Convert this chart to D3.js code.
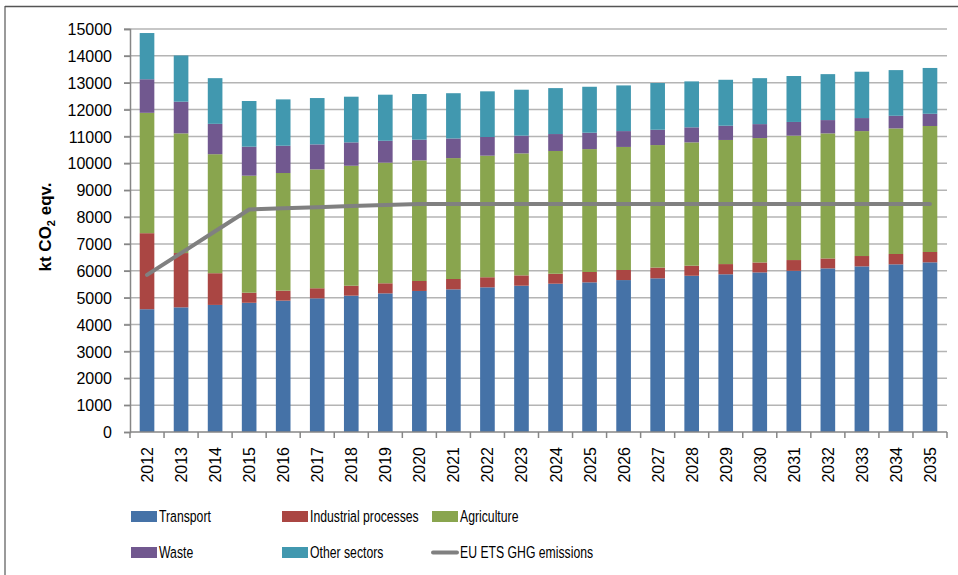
<!DOCTYPE html>
<html>
<head>
<meta charset="utf-8">
<script src="https://cdn.jsdelivr.net/npm/d3@7"></script>
<style>
    body { margin: 0; background: #fff; }
    svg { display: block; }
    .tick-label { font-family: "Liberation Sans", Arial, sans-serif; font-size: 16px; fill: #000; }
    .legend-text { font-family: "Liberation Sans", Arial, sans-serif; font-size: 17px; fill: #000; }
</style>
</head>
<body>
<svg id="chart"></svg>
<script>
const YEARS = ["2012","2013","2014","2015","2016","2017","2018","2019","2020","2021","2022","2023",
    "2024","2025","2026","2027","2028","2029","2030","2031","2032","2033","2034","2035"];

const TRANSPORT = [4570,4640,4730,4810,4890,4975,5075,5160,5250,5310,5385,5445,
    5520,5570,5655,5720,5815,5870,5940,6000,6090,6165,6240,6315];
const INDUSTRIAL = [2830,2020,1180,375,370,375,370,375,370,385,375,385,
    370,385,375,400,375,380,370,400,370,385,385,385];
const AGRICULTURE = [4480,4455,4430,4355,4380,4425,4465,4490,4490,4500,4525,4540,
    4570,4575,4580,4560,4590,4620,4630,4630,4655,4650,4675,4690];
const WASTE = [1250,1180,1130,1080,1015,930,870,815,770,730,695,660,
    630,610,590,570,560,530,520,510,495,485,470,455];
const OTHER = [1720,1720,1700,1700,1725,1725,1700,1715,1700,1685,1700,1710,
    1710,1710,1700,1740,1710,1710,1710,1710,1710,1725,1700,1705];
const ETS = [5850,6660,7470,8280,8330,8370,8410,8450,8485,8485,8485,8485,
    8485,8485,8485,8485,8485,8485,8485,8485,8485,8485,8485,8485];

const Y_TICKS = [0,1000,2000,3000,4000,5000,6000,7000,8000,9000,10000,11000,12000,13000,14000,15000];

const SERIES = [
    { name: "Transport", values: TRANSPORT, color: "#4572a7" },
    { name: "Industrial processes", values: INDUSTRIAL, color: "#aa4643" },
    { name: "Agriculture", values: AGRICULTURE, color: "#89a54e" },
    { name: "Waste", values: WASTE, color: "#71588f" },
    { name: "Other sectors", values: OTHER, color: "#4198af" }
];

const WIDTH = 958;
const HEIGHT = 575;
const LEFT = 130, RIGHT = 947, TOP = 29, BOTTOM = 432;

window.onload = function() {
    let svg = d3.select("#chart")
        .attr("width", WIDTH)
        .attr("height", HEIGHT);

    // frame of the picture (left + top edge)
    svg.append("line")
        .attr("x1", 5).attr("x2", 5).attr("y1", 6).attr("y2", HEIGHT)
        .attr("stroke", "#9a9a9a").attr("stroke-width", 2);
    svg.append("line")
        .attr("x1", 5).attr("x2", WIDTH).attr("y1", 6.5).attr("y2", 6.5)
        .attr("stroke", "#555").attr("stroke-width", 1.5);

    var x = d3.scaleBand()
        .domain(YEARS)
        .range([LEFT, RIGHT])
        .paddingInner(0.57)
        .paddingOuter(0.285);

    var y = d3.scaleLinear()
        .domain([0, 15000])
        .range([BOTTOM, TOP]);

    // gridlines
    svg.append("g")
        .selectAll("line")
        .data(Y_TICKS.slice(1))
        .enter().append("line")
        .attr("x1", LEFT - 6)
        .attr("x2", RIGHT)
        .attr("y1", function(d) { return y(d); })
        .attr("y2", function(d) { return y(d); })
        .attr("stroke", "#b4b4b4")
        .attr("stroke-width", 1.5);

    // y axis
    var yAxis = svg.append("g")
        .attr("transform", "translate(" + LEFT + ",0)")
        .call(d3.axisLeft(y).tickValues(Y_TICKS).tickSize(6).tickPadding(12).tickFormat(d3.format("d")));
    yAxis.select(".domain").attr("stroke", "#868686").attr("stroke-width", 1.5);
    yAxis.selectAll(".tick line").attr("stroke", "#868686").attr("stroke-width", 1.5);
    yAxis.selectAll("text").attr("class", "tick-label").attr("dy", "0.35em");

    // stacked bars
    var rows = YEARS.map(function(yr, i) {
        var r = { year: yr };
        SERIES.forEach(function(s) { r[s.name] = s.values[i]; });
        return r;
    });
    var stack = d3.stack().keys(SERIES.map(function(s) { return s.name; }));
    var layers = stack(rows);

    svg.append("g")
        .selectAll("g")
        .data(layers)
        .enter().append("g")
        .attr("fill", function(d, i) { return SERIES[i].color; })
        .selectAll("rect")
        .data(function(d) { return d; })
        .enter().append("rect")
        .attr("x", function(d) { return x(d.data.year); })
        .attr("width", x.bandwidth())
        .attr("y", function(d) { return y(d[1]); })
        .attr("height", function(d) { return y(d[0]) - y(d[1]); });

    // x axis
    var xAxis = svg.append("g")
        .attr("transform", "translate(0," + BOTTOM + ")");
    xAxis.append("line")
        .attr("x1", LEFT).attr("x2", RIGHT)
        .attr("stroke", "#868686").attr("stroke-width", 1.5);
    xAxis.selectAll(".xt")
        .data(YEARS.concat(["end"]))
        .enter().append("line")
        .attr("class", "xt")
        .attr("x1", function(d, i) { return i < YEARS.length ? x(d) - x.step() * x.paddingInner() / 2 : RIGHT; })
        .attr("x2", function(d, i) { return i < YEARS.length ? x(d) - x.step() * x.paddingInner() / 2 : RIGHT; })
        .attr("y1", 0).attr("y2", 6)
        .attr("stroke", "#868686").attr("stroke-width", 1.5);
    xAxis.selectAll(".xl")
        .data(YEARS)
        .enter().append("text")
        .attr("class", "tick-label")
        .attr("text-anchor", "end")
        .attr("transform", function(d) {
            return "translate(" + (x(d) + x.bandwidth() / 2 + 6) + ",15) rotate(-90)";
        })
        .text(function(d) { return d; });

    // ETS line
    var line = d3.line()
        .x(function(d, i) { return x(YEARS[i]) + x.bandwidth() / 2; })
        .y(function(d) { return y(d); });
    svg.append("path")
        .datum(ETS)
        .attr("fill", "none")
        .attr("stroke", "#808080")
        .attr("stroke-width", 4)
        .attr("stroke-linecap", "round")
        .attr("d", line);

    // y axis title
    var title = svg.append("text")
        .attr("transform", "translate(51,227) rotate(-90)")
        .attr("text-anchor", "middle")
        .style("font-family", "'Liberation Sans', Arial, sans-serif")
        .style("font-size", "17px")
        .style("font-weight", "bold");
    title.append("tspan").text("kt CO");
    title.append("tspan").attr("dy", 4).style("font-size", "11px").text("2");
    title.append("tspan").attr("dy", -4).text(" eqv.");

    // legend
    var legendItems = SERIES.map(function(s) { return { name: s.name, color: s.color, type: "rect" }; })
        .concat([{ name: "EU ETS GHG emissions", color: "#808080", type: "line" }]);
    var colX = [131, 282, 432];
    var rowY = [516.5, 552.5];

    var legend = svg.selectAll(".legend")
        .data(legendItems)
        .enter().append("g")
        .attr("class", "legend")
        .attr("transform", function(d, i) {
            return "translate(" + colX[i % 3] + "," + rowY[Math.floor(i / 3)] + ")";
        });

    legend.filter(function(d) { return d.type == "rect"; })
        .append("rect")
        .attr("y", -5.5)
        .attr("width", 26)
        .attr("height", 11)
        .style("fill", function(d) { return d.color; });

    legend.filter(function(d) { return d.type == "line"; })
        .append("line")
        .attr("x1", 1).attr("x2", 25)
        .attr("stroke", function(d) { return d.color; })
        .attr("stroke-width", 4)
        .attr("stroke-linecap", "round");

    // condensed look like the original narrow font
    legend.append("text")
        .attr("class", "legend-text")
        .attr("transform", "translate(28,0) scale(0.72,1)")
        .attr("dy", ".35em")
        .text(function(d) { return d.name; });
};
</script>
</body>
</html>
